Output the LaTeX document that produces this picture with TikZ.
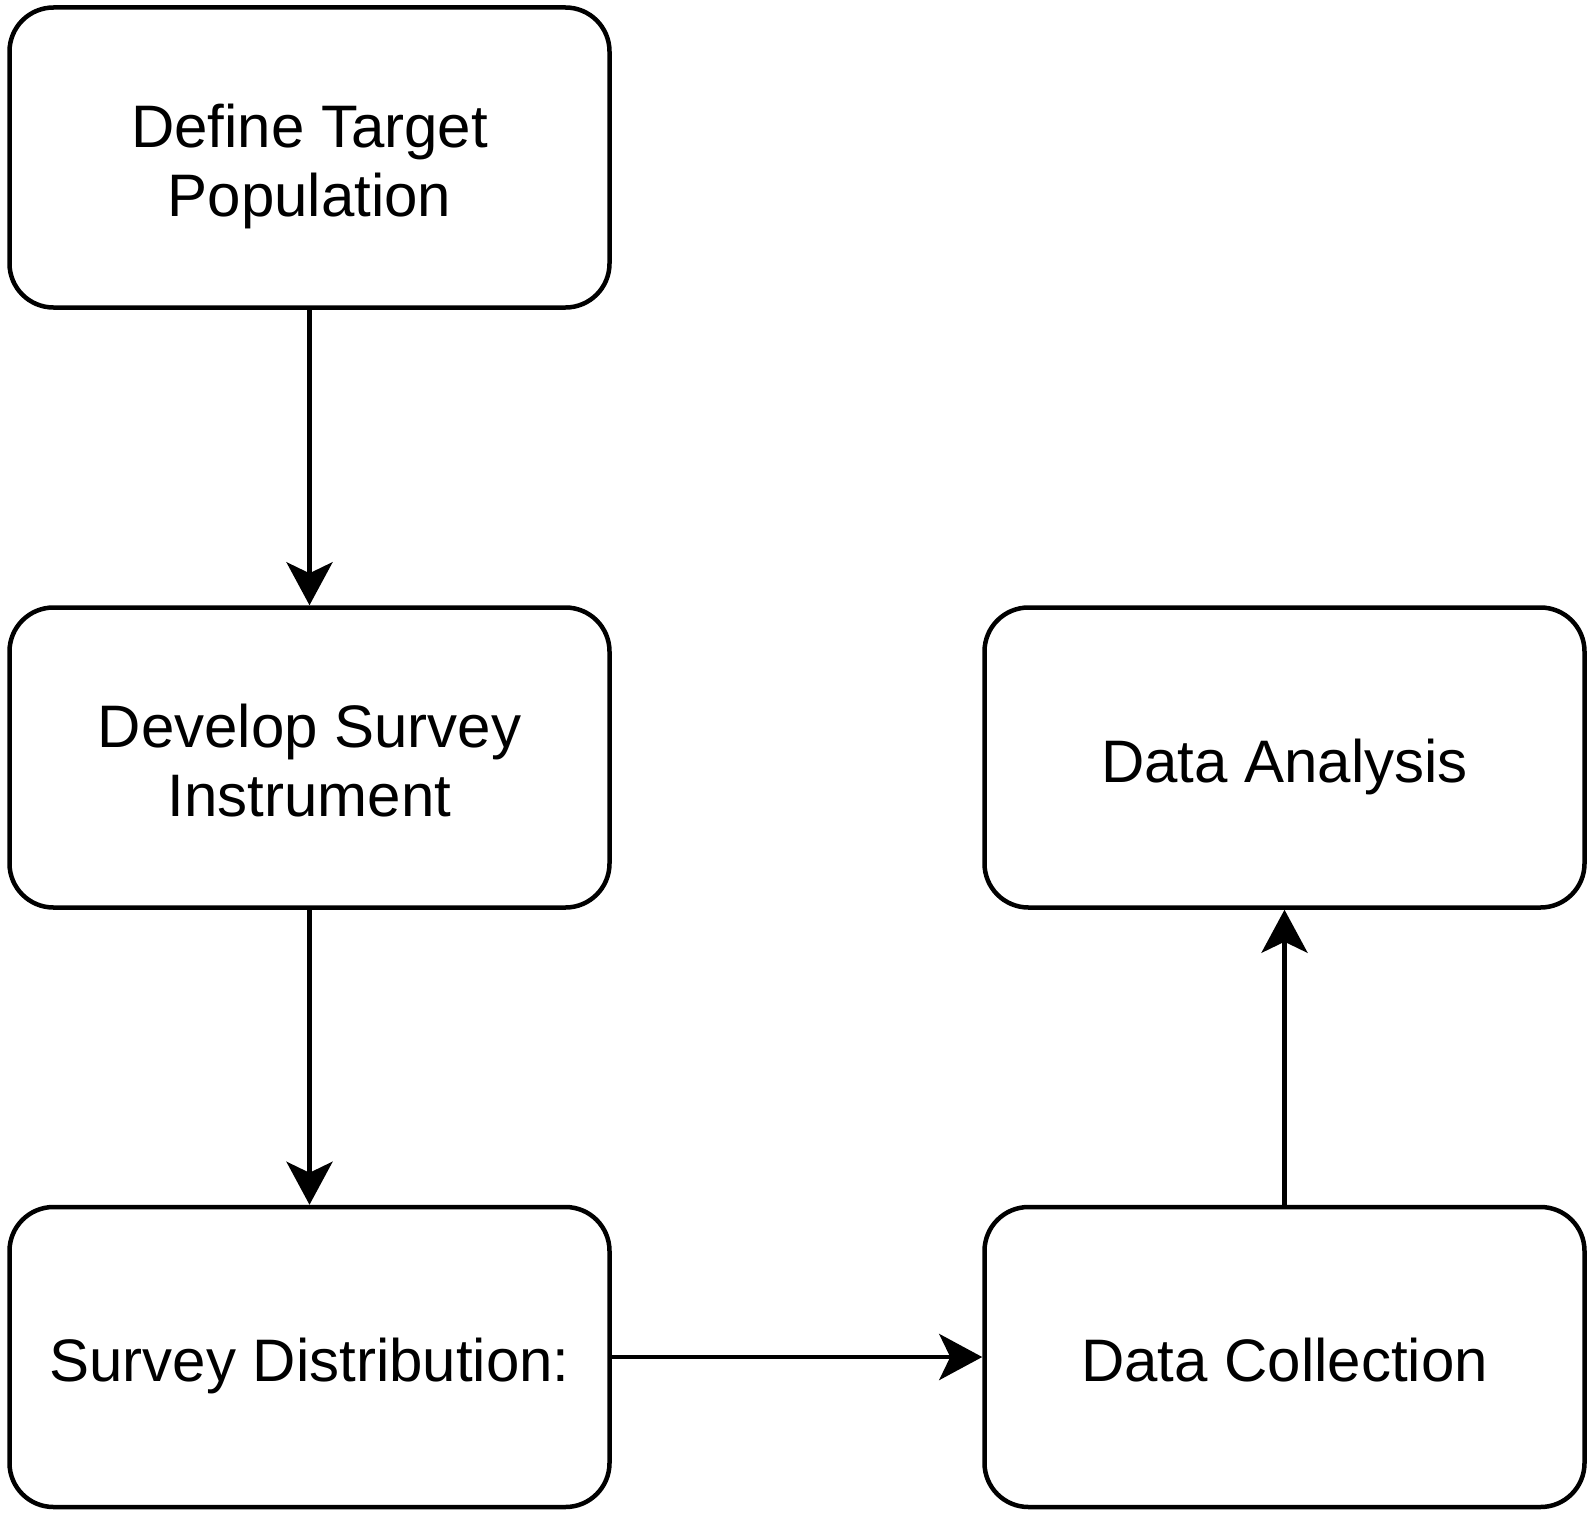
\documentclass[tikz,border=0pt]{standalone}
\usepackage{fontspec}
\setmainfont{Liberation Sans}
\usetikzlibrary{arrows.meta}
\newcommand{\boxtext}[1]{\raisebox{-11pt}[\height][\depth]{\begin{tabular}{@{}c@{}}#1\end{tabular}}}
\begin{document}
\begin{tikzpicture}[x=1pt,y=-1pt,
  stepbox/.style={draw=black, line width=4.5pt, rounded corners=44pt, fill=white,
    minimum width=600pt, minimum height=300pt, inner sep=0pt, align=center,
    font=\fontsize{60pt}{69pt}\selectfont},
  flow/.style={draw=black, line width=4.5pt, -{Stealth[length=43pt,width=46pt,inset=11pt]}}]
\useasboundingbox (0,0) rectangle (1592,1520);
\node[stepbox] (define) at (309.5,157.5) {\boxtext{Define Target\\Population}};
\node[stepbox] (develop) at (309.5,757.5) {\boxtext{Develop Survey\\Instrument}};
\node[stepbox] (distrib) at (309.5,1357) {\boxtext{Survey Distribution:}};
\node[stepbox] (collect) at (1284.5,1357) {\boxtext{Data Collection}};
\node[stepbox] (analysis) at (1284.5,757.5) {\boxtext{Data Analysis}};
\draw[flow] (define) -- (develop);
\draw[flow] (develop) -- (distrib);
\draw[flow] (distrib) -- (collect);
\draw[flow] (collect) -- (analysis);
\end{tikzpicture}
\end{document}
